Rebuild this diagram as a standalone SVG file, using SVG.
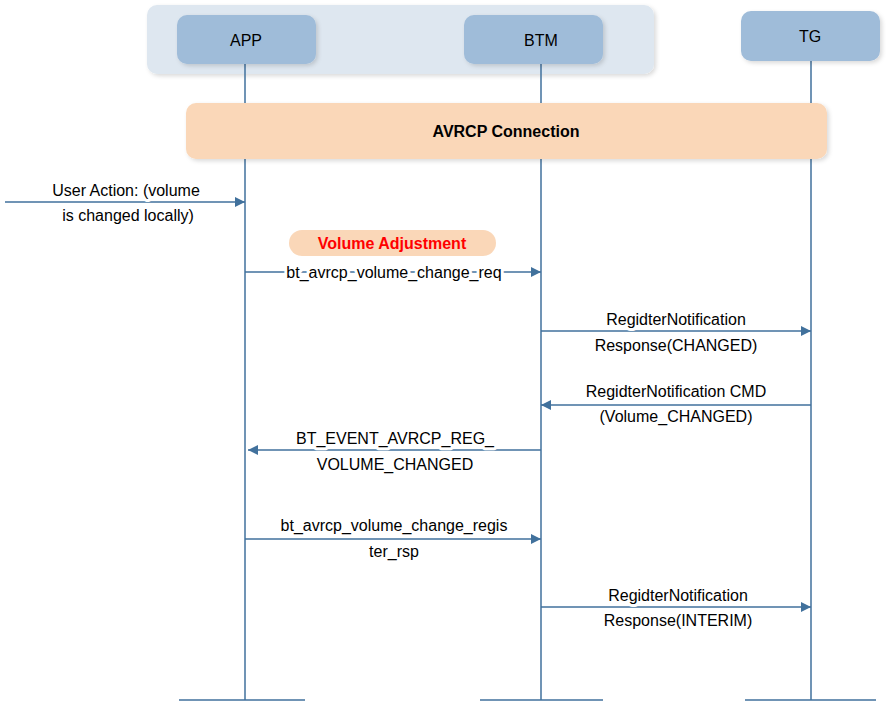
<svg xmlns="http://www.w3.org/2000/svg" width="895" height="721" viewBox="0 0 895 721">
<defs>
<marker id="ah" viewBox="0 0 10 10" refX="10" refY="5" markerWidth="14" markerHeight="10" markerUnits="userSpaceOnUse" orient="auto"><path d="M0,0 L10,5 L0,10 z" fill="#41719c"/></marker>
<filter id="sh" x="-5%" y="-20%" width="110%" height="140%"><feDropShadow dx="2" dy="2" stdDeviation="2" flood-color="#000" flood-opacity="0.15"/></filter>
</defs>
<style>
.t{font-family:"Liberation Sans",Arial,sans-serif;font-size:16px;fill:#000;text-anchor:middle;paint-order:stroke;stroke:#fff;stroke-width:6px;stroke-linejoin:round}
.n{font-family:"Liberation Sans",Arial,sans-serif;font-size:16px;fill:#000;text-anchor:middle}
.life{stroke:#41719c;stroke-width:1.5;fill:none}
.msg{stroke:#41719c;stroke-width:1.5;fill:none;marker-end:url(#ah)}
.box{fill:#9fbcd9}
</style>
<rect x="147" y="5" width="507" height="69" rx="10" fill="#dee7f0" filter="url(#sh)"/>
<g id="lifelines">
<line class="life" x1="245" y1="64" x2="245" y2="700"/>
<line class="life" x1="541" y1="64" x2="541" y2="700"/>
<line class="life" x1="811" y1="61" x2="811" y2="700"/>
<line class="life" x1="179" y1="700" x2="305" y2="700"/>
<line class="life" x1="480" y1="700" x2="603" y2="700"/>
<line class="life" x1="745" y1="700" x2="876" y2="700"/>
</g>
<g id="app"><rect class="box" x="177" y="15" width="139" height="49" rx="10" filter="url(#sh)"/><text class="n" x="246" y="46">APP</text></g>
<g id="btm"><rect class="box" x="464" y="15" width="139" height="49" rx="10" filter="url(#sh)"/><text class="n" x="541" y="46">BTM</text></g>
<g id="tg"><rect class="box" x="741" y="11" width="139" height="50" rx="10" filter="url(#sh)"/><text class="n" x="810" y="42">TG</text></g>
<g id="avrcp"><rect x="186" y="103" width="641" height="56" rx="10" fill="#fad7b8" filter="url(#sh)"/><text class="n" x="506" y="137" font-weight="bold">AVRCP Connection</text></g>
<g id="voladj"><rect x="289" y="230" width="207" height="26" rx="13" fill="#fad7b8"/><text class="n" x="392" y="249" font-weight="bold" fill="#ff0000" style="fill:#ff0000">Volume Adjustment</text></g>
<g id="connectors">
<line class="msg" x1="5" y1="202" x2="245" y2="202"/>
<line class="msg" x1="245" y1="272" x2="541" y2="272"/>
<line class="msg" x1="541" y1="331" x2="811" y2="331"/>
<line class="msg" x1="811" y1="405" x2="541" y2="405"/>
<line class="msg" x1="541" y1="450" x2="248" y2="450"/>
<line class="msg" x1="245" y1="539" x2="541" y2="539"/>
<line class="msg" x1="541" y1="607" x2="811" y2="607"/>
</g>
<g id="labels">
<text class="t" x="126" y="196">User Action: (volume</text>
<text class="t" x="128" y="221">is changed locally)</text>
<text class="t" x="394" y="278">bt_avrcp_volume_change_req</text>
<text class="t" x="676" y="325">RegidterNotification</text>
<text class="t" x="676" y="351">Response(CHANGED)</text>
<text class="t" x="676" y="397">RegidterNotification CMD</text>
<text class="t" x="676" y="422">(Volume_CHANGED)</text>
<text class="t" x="395" y="444">BT_EVENT_AVRCP_REG_</text>
<text class="t" x="395" y="470">VOLUME_CHANGED</text>
<text class="t" x="394" y="531">bt_avrcp_volume_change_regis</text>
<text class="t" x="394" y="557">ter_rsp</text>
<text class="t" x="678" y="601">RegidterNotification</text>
<text class="t" x="678" y="626">Response(INTERIM)</text>
</g>
</svg>
